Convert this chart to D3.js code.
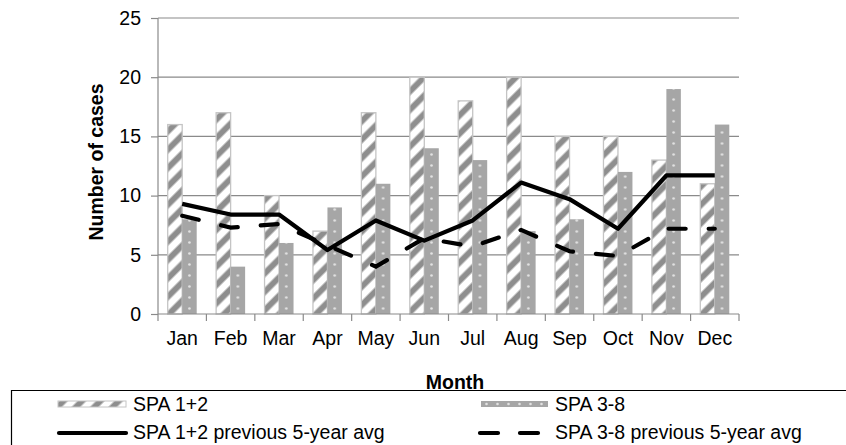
<!DOCTYPE html>
<html>
<head>
<meta charset="utf-8">
<script src="https://cdn.jsdelivr.net/npm/d3@7"></script>
<style>
  body { margin: 0; background: #fff; }
  text { font-family: "Liberation Sans", Arial, sans-serif; }
</style>
</head>
<body>
<div id="chart"></div>
<script>
// data
var months = ["Jan","Feb","Mar","Apr","May","Jun","Jul","Aug","Sep","Oct","Nov","Dec"];
var spa12 = [16,17,10,7,17,20,18,20,15,15,13,11];
var spa38 = [8,4,6,9,11,14,13,7,8,12,19,16];
var spa12avg = [9.3,8.4,8.4,5.4,7.9,6.2,7.9,11.1,9.7,7.2,11.7,11.7];
var spa38avg = [8.3,7.3,7.6,5.8,4.0,6.4,5.7,7.1,5.3,4.9,7.2,7.2];
var yTicks = [0,5,10,15,20,25];
var seriesNames = ["SPA 1+2","SPA 3-8","SPA 1+2 previous 5-year avg","SPA 3-8 previous 5-year avg"];

var W = 846, H = 445;
var fontSize = 19.5;
var gridColor = "#8a8a8a";

var svg = d3.select("#chart").append("svg").attr("width", W).attr("height", H);

var x = d3.scaleBand().domain(months).range([158, 739]);
var xs = d3.scaleBand().domain(["a","b"]).range([0, x.bandwidth()]).paddingOuter(0.67);
var y = d3.scaleLinear().domain([0, 25]).range([314, 18]);

// patterns
var defs = svg.append("defs");
var stripe = defs.append("pattern").attr("id","stripe").attr("patternUnits","userSpaceOnUse")
  .attr("width", 13).attr("height", 13).attr("patternTransform","rotate(45)");
stripe.append("rect").attr("width",13).attr("height",13).attr("fill","#fff");
stripe.append("rect").attr("x",0.5).attr("width",6).attr("height",13).attr("fill","#8e8e8e");

var dotW = x.step();
var dotX = x(months[0]) + xs("b") + xs.bandwidth()/2 - dotW/2;
var dots = defs.append("pattern").attr("id","dots").attr("patternUnits","userSpaceOnUse")
  .attr("x", dotX).attr("y", y(0)).attr("width", dotW).attr("height", 11);
dots.append("rect").attr("width",dotW).attr("height",11).attr("fill","#a6a6a6");
dots.append("circle").attr("cx",dotW/2).attr("cy",5.5).attr("r",1.3).attr("fill","#e2e2e2");

var dotsL = defs.append("pattern").attr("id","dotsL").attr("patternUnits","userSpaceOnUse")
  .attr("x", 481).attr("y", 401).attr("width", 11).attr("height", 6);
dotsL.append("rect").attr("width",11).attr("height",6).attr("fill","#a6a6a6");
dotsL.append("circle").attr("cx",5.5).attr("cy",3).attr("r",1.3).attr("fill","#e2e2e2");

// gridlines
svg.append("g").selectAll("line").data(yTicks.slice(1)).enter().append("line")
  .attr("x1", 158).attr("x2", 739)
  .attr("y1", function(d){ return y(d); }).attr("y2", function(d){ return y(d); })
  .attr("stroke", gridColor).attr("stroke-width", 1.2);

// bars
svg.append("g").selectAll("rect").data(spa12).enter().append("rect")
  .attr("x", function(d,i){ return x(months[i]) + xs("a"); })
  .attr("y", function(d){ return y(d); })
  .attr("width", xs.bandwidth())
  .attr("height", function(d){ return y(0) - y(d); })
  .attr("fill", "url(#stripe)").attr("stroke", "#c4c4c4").attr("stroke-width", 1.3);

svg.append("g").selectAll("rect").data(spa38).enter().append("rect")
  .attr("x", function(d,i){ return x(months[i]) + xs("b"); })
  .attr("y", function(d){ return y(d); })
  .attr("width", xs.bandwidth())
  .attr("height", function(d){ return y(0) - y(d); })
  .attr("fill", "url(#dots)");

// axes
var yAxis = svg.append("g").attr("transform","translate(158,0)")
  .call(d3.axisLeft(y).tickValues(yTicks).tickSize(7).tickPadding(10));
var xAxis = svg.append("g").attr("transform","translate(0," + y(0) + ")")
  .call(d3.axisBottom(x).tickSize(0).tickPadding(17));
xAxis.selectAll(".tick line").remove();
xAxis.append("g").selectAll("line").data(d3.range(months.length + 1)).enter().append("line")
  .attr("x1", function(i){ return 158 + i * x.step(); })
  .attr("x2", function(i){ return 158 + i * x.step(); })
  .attr("y1", 0).attr("y2", 7).attr("stroke", gridColor).attr("stroke-width", 1.2);
[yAxis, xAxis].forEach(function(g){
  g.select(".domain").attr("stroke", gridColor).attr("stroke-width", 1.2);
  g.selectAll(".tick line").attr("stroke", gridColor).attr("stroke-width", 1.2);
  g.selectAll("text").attr("font-size", fontSize).attr("fill", "#000")
    .style("font-family", "'Liberation Sans', Arial, sans-serif");
});
xAxis.select(".domain").attr("d", "M158,0H739");
yAxis.select(".domain").attr("d", "M0," + y(25) + "V" + y(0));

// average lines
var line = d3.line().x(function(d,i){ return x(months[i]) + x.bandwidth()/2; }).y(function(d){ return y(d); });
svg.append("path").datum(spa38avg).attr("d", line).attr("fill","none").attr("stroke","#000")
  .attr("stroke-width", 4.2).attr("stroke-linecap","round").attr("stroke-dasharray","17,23");
svg.append("path").datum(spa12avg).attr("d", line).attr("fill","none").attr("stroke","#000")
  .attr("stroke-width", 4.2).attr("stroke-linejoin","round");

// axis titles
svg.append("text").attr("transform","translate(103,162) rotate(-90)").attr("text-anchor","middle")
  .attr("font-size", fontSize).attr("font-weight","bold").text("Number of cases");
svg.append("text").attr("x", 455).attr("y", 389).attr("text-anchor","middle")
  .attr("font-size", fontSize).attr("font-weight","bold").text("Month");

// legend
var leg = svg.append("g");
leg.append("path").attr("d","M11.5,452V390.5H846").attr("fill","none").attr("stroke","#000").attr("stroke-width",1.2);
leg.append("rect").attr("x",58).attr("y",401).attr("width",68).attr("height",6)
  .attr("fill","url(#stripe)").attr("stroke","#c4c4c4").attr("stroke-width",1);
leg.append("rect").attr("x",481).attr("y",401).attr("width",67).attr("height",6).attr("fill","url(#dotsL)");
leg.append("line").attr("x1",59).attr("x2",126).attr("y1",433).attr("y2",433)
  .attr("stroke","#000").attr("stroke-width",4.2).attr("stroke-linecap","round");
leg.append("line").attr("x1",480).attr("x2",540).attr("y1",433).attr("y2",433)
  .attr("stroke","#000").attr("stroke-width",4.2).attr("stroke-linecap","round").attr("stroke-dasharray","18,22");
var legPos = [[133,411],[555,411],[133,439],[555,439]];
leg.selectAll("text.lg").data(seriesNames).enter().append("text").attr("class","lg")
  .attr("x", function(d,i){ return legPos[i][0]; }).attr("y", function(d,i){ return legPos[i][1]; })
  .attr("font-size", fontSize).text(function(d){ return d; });
</script>
</body>
</html>
